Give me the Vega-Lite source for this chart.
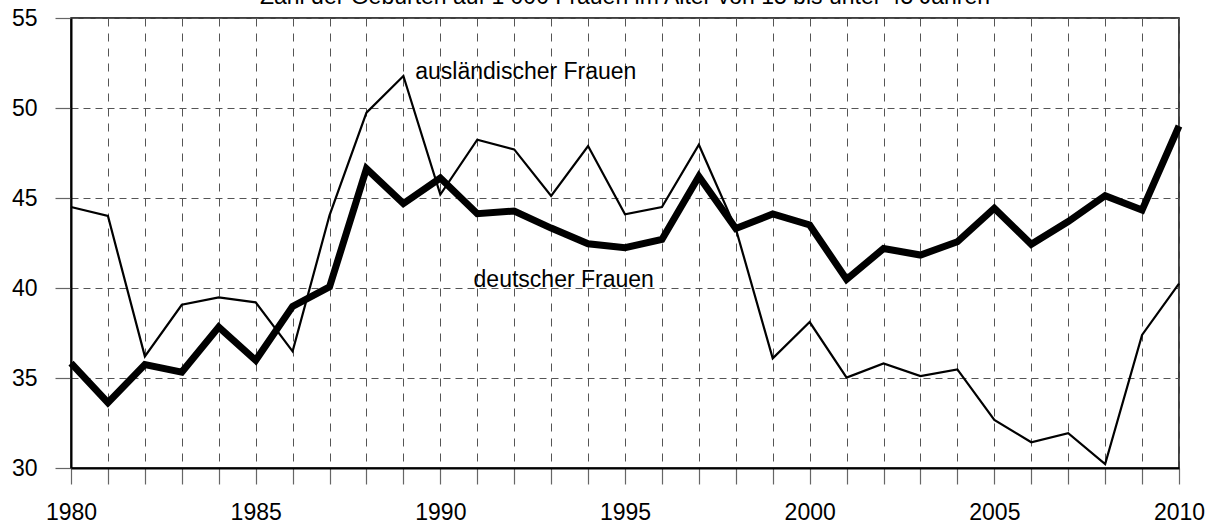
{
  "$schema": "https://vega.github.io/schema/vega-lite/v6.json",
  "width": 1108,
  "height": 450,
  "autosize": {"type": "none"},
  "padding": {"left": 71, "top": 18, "right": 27, "bottom": 55},
  "background": "white",
  "title": {
    "text": "Zahl der Geburten auf 1 000 Frauen im Alter von 15 bis unter 45 Jahren",
    "font": "Liberation Sans",
    "fontSize": 23,
    "fontWeight": "normal",
    "color": "black",
    "anchor": "middle",
    "baseline": "alphabetic",
    "offset": 0,
    "dy": 20
  },
  "config": {
    "view": {"stroke": "black", "strokeWidth": 1.5},
    "font": "Liberation Sans"
  },
  "datasets": {
    "series": [
      {"year": 1980, "series": "deutscher Frauen", "value": 35.83},
      {"year": 1981, "series": "deutscher Frauen", "value": 33.63},
      {"year": 1982, "series": "deutscher Frauen", "value": 35.74},
      {"year": 1983, "series": "deutscher Frauen", "value": 35.33},
      {"year": 1984, "series": "deutscher Frauen", "value": 37.83},
      {"year": 1985, "series": "deutscher Frauen", "value": 35.98},
      {"year": 1986, "series": "deutscher Frauen", "value": 38.98},
      {"year": 1987, "series": "deutscher Frauen", "value": 40.06},
      {"year": 1988, "series": "deutscher Frauen", "value": 46.63},
      {"year": 1989, "series": "deutscher Frauen", "value": 44.69},
      {"year": 1990, "series": "deutscher Frauen", "value": 46.11},
      {"year": 1991, "series": "deutscher Frauen", "value": 44.13},
      {"year": 1992, "series": "deutscher Frauen", "value": 44.28},
      {"year": 1993, "series": "deutscher Frauen", "value": 43.33},
      {"year": 1994, "series": "deutscher Frauen", "value": 42.46},
      {"year": 1995, "series": "deutscher Frauen", "value": 42.24},
      {"year": 1996, "series": "deutscher Frauen", "value": 42.7},
      {"year": 1997, "series": "deutscher Frauen", "value": 46.2},
      {"year": 1998, "series": "deutscher Frauen", "value": 43.31},
      {"year": 1999, "series": "deutscher Frauen", "value": 44.11},
      {"year": 2000, "series": "deutscher Frauen", "value": 43.5},
      {"year": 2001, "series": "deutscher Frauen", "value": 40.48},
      {"year": 2002, "series": "deutscher Frauen", "value": 42.19},
      {"year": 2003, "series": "deutscher Frauen", "value": 41.83},
      {"year": 2004, "series": "deutscher Frauen", "value": 42.57},
      {"year": 2005, "series": "deutscher Frauen", "value": 44.43},
      {"year": 2006, "series": "deutscher Frauen", "value": 42.43},
      {"year": 2007, "series": "deutscher Frauen", "value": 43.69},
      {"year": 2008, "series": "deutscher Frauen", "value": 45.13},
      {"year": 2009, "series": "deutscher Frauen", "value": 44.33},
      {"year": 2010, "series": "deutscher Frauen", "value": 49.0},
      {"year": 1980, "series": "ausländischer Frauen", "value": 44.5},
      {"year": 1981, "series": "ausländischer Frauen", "value": 44.0},
      {"year": 1982, "series": "ausländischer Frauen", "value": 36.2},
      {"year": 1983, "series": "ausländischer Frauen", "value": 39.07},
      {"year": 1984, "series": "ausländischer Frauen", "value": 39.48},
      {"year": 1985, "series": "ausländischer Frauen", "value": 39.2},
      {"year": 1986, "series": "ausländischer Frauen", "value": 36.48},
      {"year": 1987, "series": "ausländischer Frauen", "value": 44.04},
      {"year": 1988, "series": "ausländischer Frauen", "value": 49.74},
      {"year": 1989, "series": "ausländischer Frauen", "value": 51.78},
      {"year": 1990, "series": "ausländischer Frauen", "value": 45.19},
      {"year": 1991, "series": "ausländischer Frauen", "value": 48.24},
      {"year": 1992, "series": "ausländischer Frauen", "value": 47.7},
      {"year": 1993, "series": "ausländischer Frauen", "value": 45.11},
      {"year": 1994, "series": "ausländischer Frauen", "value": 47.89},
      {"year": 1995, "series": "ausländischer Frauen", "value": 44.09},
      {"year": 1996, "series": "ausländischer Frauen", "value": 44.5},
      {"year": 1997, "series": "ausländischer Frauen", "value": 47.96},
      {"year": 1998, "series": "ausländischer Frauen", "value": 43.3},
      {"year": 1999, "series": "ausländischer Frauen", "value": 36.09},
      {"year": 2000, "series": "ausländischer Frauen", "value": 38.11},
      {"year": 2001, "series": "ausländischer Frauen", "value": 35.02},
      {"year": 2002, "series": "ausländischer Frauen", "value": 35.81},
      {"year": 2003, "series": "ausländischer Frauen", "value": 35.11},
      {"year": 2004, "series": "ausländischer Frauen", "value": 35.48},
      {"year": 2005, "series": "ausländischer Frauen", "value": 32.67},
      {"year": 2006, "series": "ausländischer Frauen", "value": 31.43},
      {"year": 2007, "series": "ausländischer Frauen", "value": 31.94},
      {"year": 2008, "series": "ausländischer Frauen", "value": 30.22},
      {"year": 2009, "series": "ausländischer Frauen", "value": 37.39},
      {"year": 2010, "series": "ausländischer Frauen", "value": 40.24}
    ],
    "labels": [
      {"label": "ausländischer Frauen", "year": 1989.32, "value": 51.6},
      {"label": "deutscher Frauen", "year": 1990.9, "value": 40.07}
    ]
  },
  "resolve": {"axis": {"x": "independent"}},
  "layer": [
    {
      "data": {"name": "series"},
      "mark": {"type": "line", "color": "black", "strokeJoin": "miter", "strokeCap": "butt"},
      "encoding": {
        "x": {
          "field": "year",
          "type": "quantitative",
          "scale": {"domain": [1980, 2010], "nice": false, "zero": false},
          "axis": {
            "orient": "bottom",
            "title": null,
            "values": [1980,1981,1982,1983,1984,1985,1986,1987,1988,1989,1990,1991,1992,1993,1994,1995,1996,1997,1998,1999,2000,2001,2002,2003,2004,2005,2006,2007,2008,2009,2010],
            "labels": false,
            "tickSize": 16,
            "tickColor": "#666",
            "tickWidth": 1.2,
            "domainColor": "black",
            "domainWidth": 2,
            "grid": true,
            "gridColor": "#555",
            "gridWidth": 1,
            "gridDash": [8, 7]
          }
        },
        "y": {
          "field": "value",
          "type": "quantitative",
          "scale": {"domain": [30, 55], "nice": false, "zero": false},
          "axis": {
            "title": null,
            "values": [30, 35, 40, 45, 50, 55],
            "labelFont": "Liberation Sans",
            "labelFontSize": 23,
            "labelColor": "black",
            "labelPadding": 18,
            "tickSize": 16,
            "tickColor": "#666",
            "tickWidth": 1.2,
            "domainColor": "black",
            "domainWidth": 2,
            "grid": true,
            "gridColor": "#555",
            "gridWidth": 1,
            "gridDash": [7, 5]
          }
        },
        "detail": {"field": "series"},
        "strokeWidth": {
          "field": "series",
          "type": "nominal",
          "scale": {"domain": ["deutscher Frauen", "ausländischer Frauen"], "range": [7, 2.2]},
          "legend": null
        }
      }
    },
    {
      "data": {"name": "labels"},
      "mark": {"type": "text", "align": "left", "baseline": "alphabetic", "font": "Liberation Sans", "fontSize": 23, "color": "black"},
      "encoding": {
        "x": {
          "field": "year",
          "type": "quantitative",
          "axis": {
            "orient": "bottom",
            "title": null,
            "values": [1980, 1985, 1990, 1995, 2000, 2005, 2010],
            "format": "d",
            "labelFlush": false,
            "labelOverlap": false,
            "labelBound": false,
            "labelFont": "Liberation Sans",
            "labelFontSize": 23,
            "labelColor": "black",
            "labelPadding": 33,
            "ticks": false,
            "domain": false,
            "grid": false
          }
        },
        "y": {"field": "value", "type": "quantitative"},
        "text": {"field": "label"}
      }
    }
  ]
}
